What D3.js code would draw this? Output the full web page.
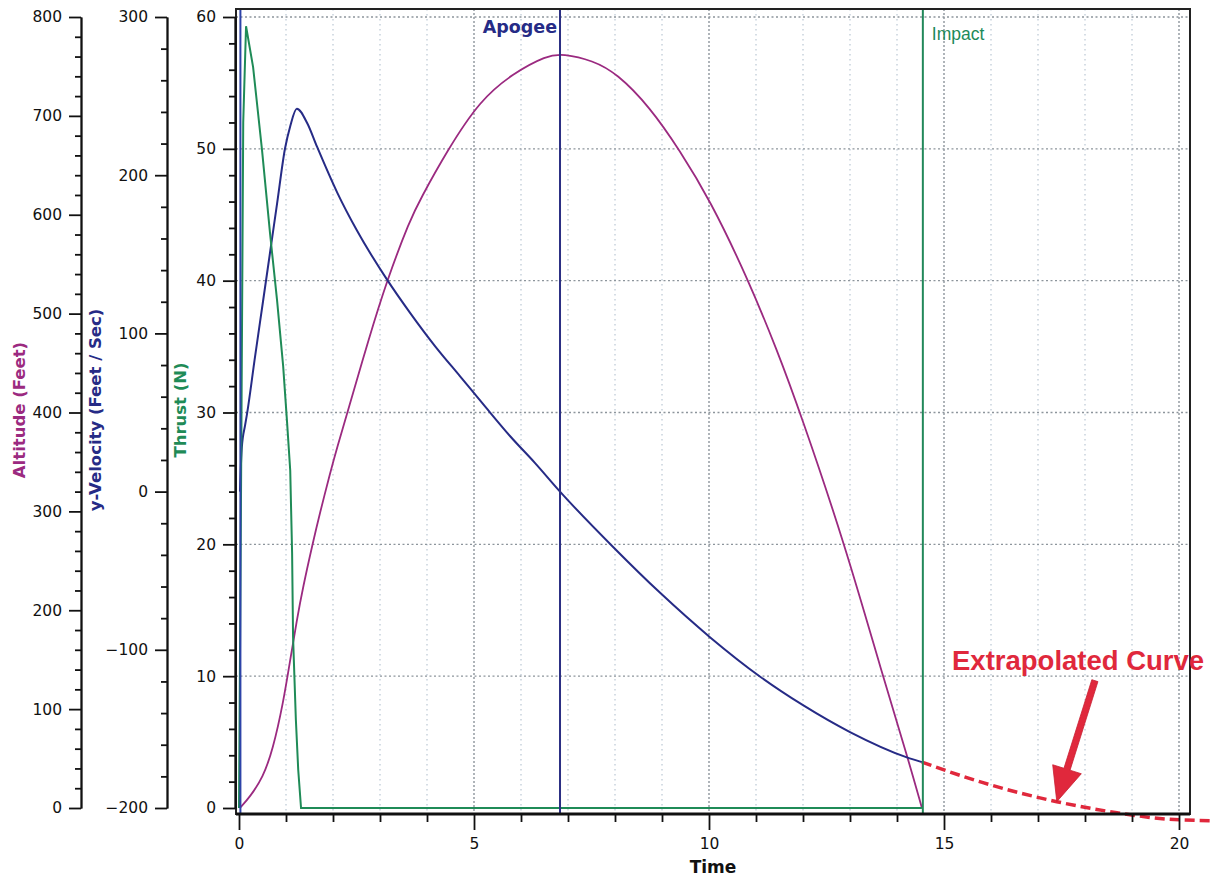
<!DOCTYPE html>
<html>
<head>
<meta charset="utf-8">
<script src="https://cdn.jsdelivr.net/npm/d3@7"></script>
<style>
  body { margin: 0; background: #fff; }
  svg { display: block; }
  .tick text { font-family: "DejaVu Sans", sans-serif; font-size: 15.5px; fill: #111; }
  .axis path, .axis line { stroke: #111; stroke-width: 1.8; }
</style>
</head>
<body>
<div id="chart"></div>
<script>
// Rocket flight: thrust, y-velocity and altitude vs time

// Thrust (N)
const thrustT = [0, 0.04, 0.09, 0.15, 0.30, 0.49, 0.66, 0.81, 0.94, 1.02, 1.09, 1.13, 1.15, 1.21, 1.26, 1.32, 14.53];
const thrustN = [0, 22, 52, 59.3, 56.2, 49.9, 43.6, 38.5, 33.5, 29.4, 25.6, 19.3, 13.0, 6.7, 2.9, 0, 0];

// y-Velocity (Feet / Sec)
const velT = [0.02, 0.06, 0.13, 0.17, 0.34, 0.51, 0.66, 0.81, 0.98, 1.09, 1.23, 1.45, 1.66, 2.09, 2.51, 3.15, 3.64,
              4.17, 4.70, 5.23, 5.77, 6.30, 6.83, 7.96, 8.96, 10.02, 11.09, 12.0, 13.0, 14.21, 14.53];
const velV = [0, 28, 42, 49, 85, 120, 151, 182, 217, 231, 242, 233, 218, 189, 165, 134, 113,
              92, 73, 54, 35, 18, 0, -35, -64, -92, -117, -135, -152, -168, -171];

// Altitude (Feet)
const altT = [0.02, 0.23, 0.51, 0.72, 0.94, 1.09, 1.23, 1.36, 1.57, 1.72, 1.94, 2.09, 2.30, 2.77, 3.15, 3.64, 3.85,
              4.43, 5.13, 5.83, 6.55, 6.89, 7.53, 8.04, 8.74, 9.38, 10.02, 10.81, 11.45, 11.94, 12.89,
              13.70, 14.21, 14.53];
const altFt = [0, 11, 31, 59, 106, 150, 190, 223, 268, 298, 339, 365, 399, 476, 534, 595, 615,
               665, 716, 743, 761, 763, 756, 743, 709, 665, 615, 537, 463, 400, 267,
               133, 54, 0];

// Extrapolated velocity after impact
const extT = [14.53, 15.83, 17.4, 18.68, 19.74, 20.66];
const extV = [-171, -184, -196, -203, -207, -208];

// Event markers
const events = [
    { name: '', t: 0.03, color: '#2d43a8' },
    { name: 'Apogee', t: 6.83, color: '#2b2f84' },
    { name: 'Impact', t: 14.55, color: '#22885a' }
];

// Arrow annotation (time, velocity)
const arrowTail = { t: 18.21, v: -119.5 };
const arrowTip = { t: 17.4, v: -196 };

const colors = { alt: '#9b2a80', vel: '#262b86', thrust: '#1f8b57', red: '#e0283c' };
const frame = { left: 236, right: 1190, top: 9, bottom: 814 };

const svg = d3.select('#chart').append('svg')
    .attr('width', 1213)
    .attr('height', 876);

// Scales
const x = d3.scaleLinear().domain([0, 20]).range([239, 1179]);
const yThrust = d3.scaleLinear().domain([0, 60]).range([808, 17]);
const yVel = d3.scaleLinear().domain([-200, 300]).range([808, 17]);
const yAlt = d3.scaleLinear().domain([0, 800]).range([808, 17]);

// Grid lines
const grid = svg.append('g');
grid.selectAll('.vgrid')
    .data(d3.range(1, 21))
    .enter().append('line')
    .attr('x1', d => x(d)).attr('x2', d => x(d))
    .attr('y1', frame.top).attr('y2', frame.bottom)
    .attr('stroke', d => d % 5 === 0 ? '#8d959c' : '#b3c2cf')
    .attr('stroke-width', d => d % 5 === 0 ? 1.4 : 1.1)
    .attr('stroke-dasharray', d => d % 5 === 0 ? '2,2' : '1.5,3.5');

grid.selectAll('.hgrid')
    .data(d3.range(10, 61, 10))
    .enter().append('line')
    .attr('x1', frame.left).attr('x2', frame.right)
    .attr('y1', d => yThrust(d)).attr('y2', d => yThrust(d))
    .attr('stroke', '#8d959c')
    .attr('stroke-width', 1.3)
    .attr('stroke-dasharray', '2,2.5');

// Curves
const lineOf = (ts, vs, yScale, curve) => d3.line()
    .x((d, i) => x(ts[i]))
    .y(d => yScale(d))
    .curve(curve)(vs);

svg.append('path')
    .attr('d', lineOf(altT, altFt, yAlt, d3.curveBasis))
    .attr('fill', 'none').attr('stroke', colors.alt).attr('stroke-width', 1.8);

svg.append('path')
    .attr('d', lineOf(velT, velV, yVel, d3.curveMonotoneX))
    .attr('fill', 'none').attr('stroke', colors.vel).attr('stroke-width', 2);

svg.append('path')
    .attr('d', lineOf(thrustT, thrustN, yThrust, d3.curveLinear))
    .attr('fill', 'none').attr('stroke', colors.thrust).attr('stroke-width', 2);

svg.append('path')
    .attr('d', lineOf(extT, extV, yVel, d3.curveMonotoneX))
    .attr('fill', 'none').attr('stroke', colors.red)
    .attr('stroke-width', 3.5).attr('stroke-dasharray', '10,5');

// Event lines
svg.selectAll('.event')
    .data(events)
    .enter().append('line')
    .attr('x1', d => x(d.t)).attr('x2', d => x(d.t))
    .attr('y1', frame.top).attr('y2', frame.bottom)
    .attr('stroke', d => d.color)
    .attr('stroke-width', 2);

svg.append('text')
    .attr('x', x(events[1].t) - 3)
    .attr('y', 33)
    .attr('text-anchor', 'end')
    .style('font-family', '"DejaVu Sans", sans-serif')
    .style('font-size', '17.5px')
    .style('font-weight', 'bold')
    .style('fill', colors.vel)
    .text(events[1].name);

svg.append('text')
    .attr('x', x(events[2].t) + 9)
    .attr('y', 40)
    .style('font-family', '"Liberation Sans", Arial, sans-serif')
    .style('font-size', '17.5px')
    .style('fill', '#1d8a5a')
    .text(events[2].name);

// Frame
svg.append('rect')
    .attr('x', frame.left).attr('y', frame.top)
    .attr('width', frame.right - frame.left)
    .attr('height', frame.bottom - frame.top)
    .attr('fill', 'none').attr('stroke', '#222').attr('stroke-width', 2);

svg.append('line')
    .attr('x1', frame.left).attr('x2', frame.right)
    .attr('y1', frame.bottom).attr('y2', frame.bottom)
    .attr('stroke', '#111').attr('stroke-width', 3);

// Y axes
const drawYAxis = (scale, xPos, major, minor) => {
    const [lo, hi] = scale.domain();
    const majors = d3.range(lo, hi + 0.001, major);
    const minors = d3.range(lo, hi + 0.001, minor).filter(v => !majors.includes(v));
    svg.append('g')
        .attr('class', 'axis')
        .attr('transform', `translate(${xPos},0)`)
        .call(d3.axisLeft(scale).tickValues(minors).tickSize(6).tickSizeOuter(0).tickFormat(''));
    svg.append('g')
        .attr('class', 'axis')
        .attr('transform', `translate(${xPos},0)`)
        .call(d3.axisLeft(scale).tickValues(majors).tickSize(12).tickPadding(7).tickSizeOuter(0));
};

drawYAxis(yAlt, 81, 100, 20);
drawYAxis(yVel, 167, 100, 20);
drawYAxis(yThrust, 235, 10, 2);

// X axis
const xMajors = d3.range(0, 21, 5);
const xMinors = d3.range(0, 21).filter(v => v % 5 !== 0);
svg.append('g')
    .attr('class', 'axis')
    .attr('transform', `translate(0,${frame.bottom})`)
    .call(d3.axisBottom(x).tickValues(xMinors).tickSize(8).tickSizeOuter(0).tickFormat(''))
    .select('.domain').remove();
svg.append('g')
    .attr('class', 'axis')
    .attr('transform', `translate(0,${frame.bottom})`)
    .call(d3.axisBottom(x).tickValues(xMajors).tickSize(16).tickPadding(8).tickSizeOuter(0))
    .select('.domain').remove();

// Axis titles
const title = (txt, tx, ty, color, rotate) => svg.append('text')
    .attr('transform', `translate(${tx},${ty})` + (rotate ? ' rotate(-90)' : ''))
    .attr('text-anchor', 'middle')
    .style('font-family', '"DejaVu Sans", sans-serif')
    .style('font-size', rotate ? '16.5px' : '17px')
    .style('font-weight', 'bold')
    .style('fill', color)
    .text(txt);

title('Altitude (Feet)', 25, 410, colors.alt, true);
title('y-Velocity (Feet / Sec)', 101, 410, colors.vel, true);
title('Thrust (N)', 186, 410, colors.thrust, true);
title('Time', 713, 873, '#111', false);

// Extrapolated annotation
svg.append('text')
    .attr('x', 952)
    .attr('y', 670)
    .style('font-family', '"Liberation Sans", Arial, sans-serif')
    .style('font-size', '27.5px')
    .style('font-weight', 'bold')
    .style('fill', colors.red)
    .text('Extrapolated Curve');

const tail = [x(arrowTail.t), yVel(arrowTail.v)];
const tip = [x(arrowTip.t), yVel(arrowTip.v)];
const dx = tip[0] - tail[0], dy = tip[1] - tail[1];
const len = Math.hypot(dx, dy);
const ux = dx / len, uy = dy / len, px = -uy, py = ux;
const headLen = 34, headW = 15, shaftW = 3.2;
const base = [tip[0] - ux * headLen, tip[1] - uy * headLen];
const pts = [
    [tail[0] + px * shaftW, tail[1] + py * shaftW],
    [base[0] + px * shaftW, base[1] + py * shaftW],
    [base[0] + px * headW, base[1] + py * headW],
    tip,
    [base[0] - px * headW, base[1] - py * headW],
    [base[0] - px * shaftW, base[1] - py * shaftW],
    [tail[0] - px * shaftW, tail[1] - py * shaftW]
];
svg.append('path')
    .attr('d', d3.line()(pts) + 'Z')
    .attr('fill', colors.red)
    .attr('stroke', '#c81f32')
    .attr('stroke-width', 0.8);
</script>
</body>
</html>
